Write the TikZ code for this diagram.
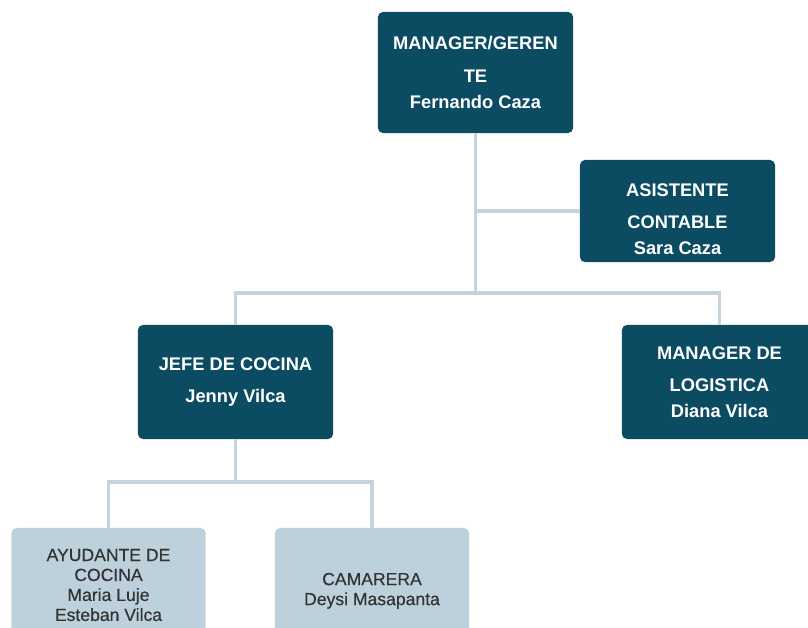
\documentclass[tikz,border=0pt]{standalone}
\usepackage{fontspec}
\setmainfont{Liberation Sans}
\newfontfamily\stafffont{Liberation Sans}[FakeBold=0.45]
\usepackage{tikz}
\usetikzlibrary{positioning, calc}
\definecolor{jefeteal}{HTML}{0C4C62}
\definecolor{staffblue}{HTML}{BDD1DD}
\definecolor{linkgray}{HTML}{C4D4DC}
\definecolor{stafftext}{HTML}{333333}
\tikzset{
    boss/.style ={rectangle, rounded corners=3.5pt, fill=jefeteal, text=white,
                  minimum width=4.875cm, align=center,
                  font=\fontsize{13}{16}\selectfont\bfseries},
    staff/.style ={rectangle, rounded corners=3.5pt, fill=staffblue, text=stafftext,
                  minimum width=4.85cm, minimum height=2.85cm, align=center,
                  font=\stafffont\fontsize{12.5}{14.2}\selectfont},
    link/.style = {draw=linkgray, line width=2.5pt}
    }

\begin{document}
\begin{tikzpicture}[
      x = 0.025cm, y = -0.025cm, % one unit = one pixel of the sketch
      semithick % line style
    ]
    \useasboundingbox (0,0) rectangle (808,628);

    \node[boss, minimum height=3.025cm] (ger) at (475.5,72.5)
        {MANAGER/GEREN\\[6.8pt]TE\\[2.5pt]Fernando Caza};
    \node[boss, minimum height=2.55cm] (asis) at (677.5,211)
        {\rule{0pt}{20.7pt}ASISTENTE\\[6.8pt]CONTABLE\\[2.5pt]Sara Caza};
    \node[boss, minimum height=2.85cm] (jefe) at (235.5,382)
        {JEFE DE COCINA\\[6.8pt]Jenny Vilca};
    \node[boss, minimum height=2.85cm] (logi) at (719.5,382)
        {MANAGER DE\\[6.8pt]LOGISTICA\\[2.5pt]Diana Vilca};
    \node[staff] (ayu) at (108.5,585)
        {AYUDANTE DE\\COCINA\\Maria Luje\\Esteban Vilca};
    \node[staff] (cam) at (372,585)
        {\rule{0pt}{17pt}CAMARERA\\Deysi Masapanta};

    \coordinate (top) at (475.5,293);
    \coordinate (kit) at (235.5,482);

    \draw[link] (ger.south) -- (top);
    \draw[link] (ger.south) |- (asis.west);
    \draw[link] (jefe.north) |- (top) -| (logi.north);
    \draw[link] (jefe.south) -- (kit);
    \draw[link] (ayu.north) |- (kit) -| (cam.north);
\end{tikzpicture}
\end{document}
